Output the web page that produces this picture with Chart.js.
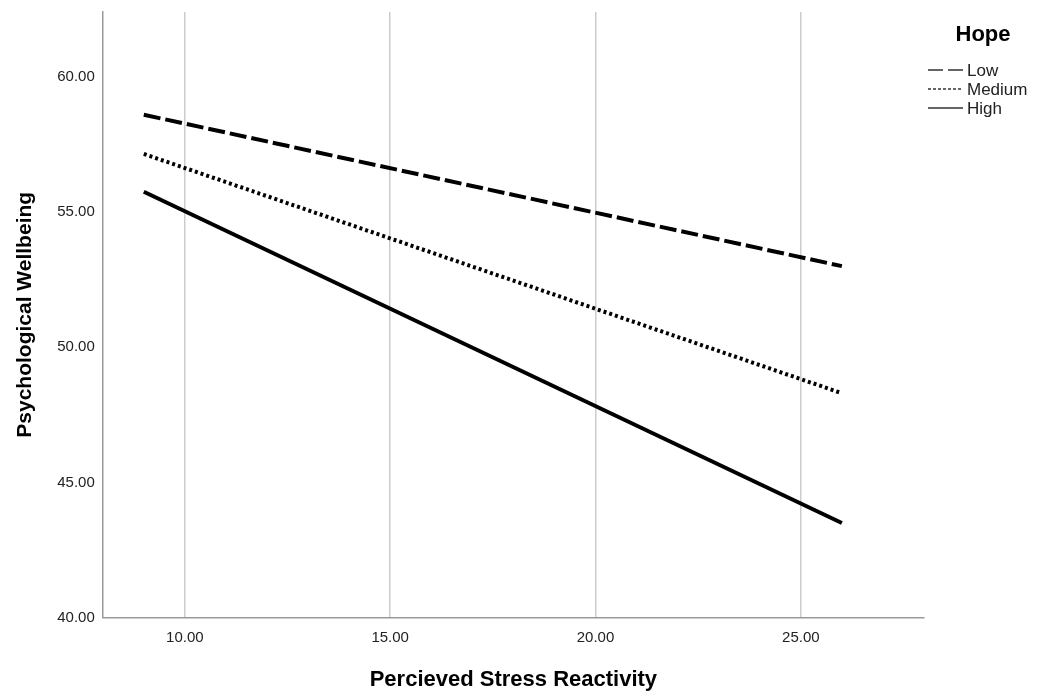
<!DOCTYPE html>
<html>
<head>
<meta charset="utf-8">
<script src="https://cdn.jsdelivr.net/npm/chart.js@4"></script>
<style>
    html, body { margin: 0; padding: 0; background: #ffffff; }
    #wrap { width: 1039px; height: 693px; position: relative; }
</style>
</head>
<body>
<div id="wrap"><canvas id="lineChart"></canvas></div>
<script>
//////////////////////* Data *////////////////////////////
let stressValues = [9, 26];

let hopeLevels = ["Low", "Medium", "High"];

// Psychological wellbeing at the two ends of each line
let lowHope = [58.6, 53.0];
let mediumHope = [57.15, 48.3];
let highHope = [55.75, 43.5];

let xTickValues = [10, 15, 20, 25];
let yTickValues = [40, 45, 50, 55, 60];

//////////////////////* Styles *////////////////////////////
let primaryFont = "'Liberation Sans', Arial, sans-serif";
let lineColor = "#000000";
let textColor = "#222222";
let gridColor = "#cccccc";
let axisColor = "#9a9a9a";
let dashPatterns = [[17, 5], [3, 3], []];
let legendDash = [[15, 5], [3, 2], []];

function toPoints(values) {
    return stressValues.map(function (x, i) {
        return { x: x, y: values[i] };
    });
}

//////////////////////* Legend *////////////////////////////
let hopeLegend = {
    id: "hopeLegend",
    afterDraw: function (chart) {
        let ctx = chart.ctx;
        ctx.save();
        ctx.fillStyle = "#000000";
        ctx.font = "bold 22px " + primaryFont;
        ctx.textAlign = "center";
        ctx.textBaseline = "middle";
        ctx.fillText("Hope", 983, 35);
        ctx.font = "17px " + primaryFont;
        ctx.textAlign = "left";
        chart.data.datasets.forEach(function (ds, i) {
            let y = 70 + i * 19;
            ctx.strokeStyle = "#333333";
            ctx.lineWidth = 1.3;
            ctx.setLineDash(legendDash[i]);
            ctx.beginPath();
            ctx.moveTo(928, y);
            ctx.lineTo(963, y);
            ctx.stroke();
            ctx.setLineDash([]);
            ctx.fillStyle = textColor;
            ctx.fillText(ds.label, 967, y + 1);
        });
        ctx.restore();
    }
};

//////////////////////* Line Chart *////////////////////////////
function lineChart() {
    let ctx = document.getElementById("lineChart");
    let series = [lowHope, mediumHope, highHope];
    let data = {
        datasets: series.map(function (values, i) {
            return {
                type: "line",
                label: hopeLevels[i],
                data: toPoints(values),
                borderColor: lineColor,
                borderWidth: 4,
                borderDash: dashPatterns[i],
                borderCapStyle: "butt",
                pointRadius: 0,
                fill: false,
            };
        }),
    };
    let config = {
        data: data,
        options: {
            responsive: true,
            maintainAspectRatio: false,
            animation: false,
            layout: {
                padding: { top: 12, right: 115, left: 13, bottom: 0 },
            },
            plugins: {
                legend: { display: false },
                tooltip: { enabled: false },
            },
            scales: {
                x: {
                    type: "linear",
                    min: 8,
                    max: 28,
                    afterBuildTicks: function (scale) {
                        scale.ticks = xTickValues.map(function (v) { return { value: v }; });
                    },
                    ticks: {
                        color: textColor,
                        padding: 11,
                        callback: function (value) { return value.toFixed(2); },
                        font: { family: primaryFont, size: 15 },
                    },
                    title: {
                        display: true,
                        text: "Percieved Stress Reactivity",
                        color: "#000000",
                        padding: { top: 9, bottom: 0 },
                        font: { family: primaryFont, weight: "bold", size: 22 },
                    },
                    grid: {
                        color: gridColor,
                        lineWidth: 1.5,
                        drawTicks: false,
                    },
                    border: { color: axisColor, width: 1.5 },
                },
                y: {
                    type: "linear",
                    min: 40,
                    max: 62.4,
                    afterBuildTicks: function (scale) {
                        scale.ticks = yTickValues.map(function (v) { return { value: v }; });
                    },
                    afterFit: function (scale) {
                        // top tick sits well below the axis end, no extra room needed
                        scale.paddingTop = 0;
                    },
                    ticks: {
                        color: textColor,
                        padding: 8,
                        callback: function (value) { return value.toFixed(2); },
                        font: { family: primaryFont, size: 15 },
                    },
                    title: {
                        display: true,
                        text: "Psychological Wellbeing",
                        color: "#000000",
                        padding: { top: 0, bottom: 11 },
                        font: { family: primaryFont, weight: "bold", size: 21 },
                    },
                    grid: {
                        display: false,
                        drawTicks: false,
                    },
                    border: { color: axisColor, width: 1.5 },
                },
            },
        },
        plugins: [hopeLegend],
    };
    let chart = new Chart(ctx, config);
}

lineChart();
</script>
</body>
</html>
